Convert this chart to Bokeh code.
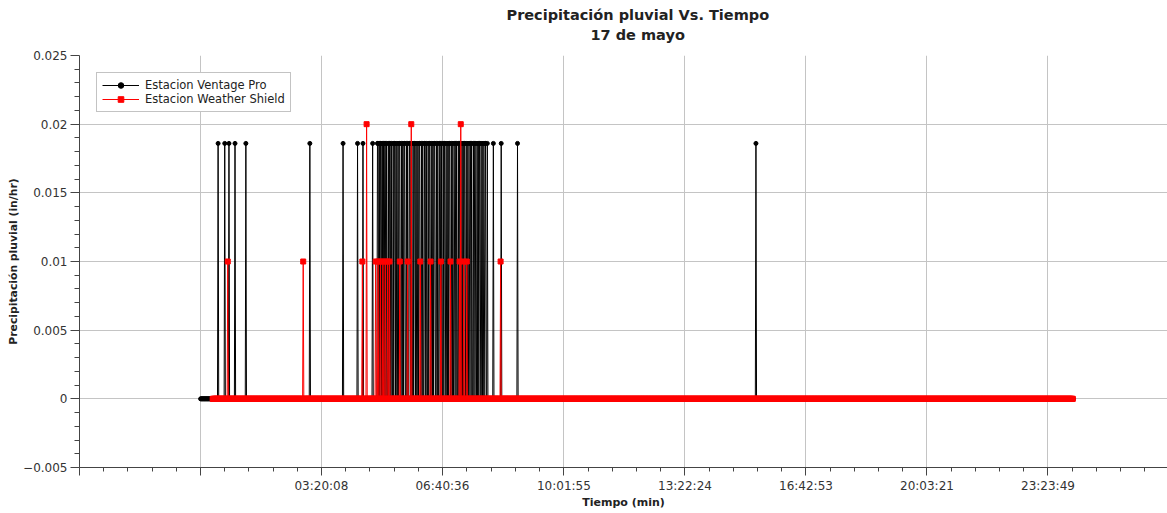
import numpy as np
from bokeh.plotting import figure
from bokeh.models import FixedTicker, Title, Legend, LegendItem, Range1d
from bokeh.embed import file_html
from bokeh.resources import INLINE

# ---------------- data (time in minutes since 00:00 of 17 de mayo) ----------------
# Estacion Ventage Pro: 1-minute samples, rain rate in in/hr
vp_start_min = 0
vp_end_min = 1446
vp_rain_value = 0.0186
vp_rain_minutes = [29, 40, 47, 57, 75, 181, 236, 260, 269, 285,
                   293, 294, 296, 298, 299, 301, 303, 305, 306, 308, 311, 313, 314, 316,
                   319, 321, 322, 324, 327, 329, 330, 333, 335, 337, 338, 341, 343, 346,
                   347, 349, 352, 354, 355, 357, 360, 362, 363, 366, 368, 371, 372, 374,
                   377, 379, 380, 383, 385, 387, 388, 391, 393, 396, 397, 399, 402, 404,
                   405, 408, 410, 412, 413, 416, 418, 421, 422, 424, 427, 429, 430, 433,
                   435, 437, 438, 441, 443, 446, 447, 449, 452, 454, 455, 458, 460, 462,
                   463, 466, 468, 471, 472, 475,
                   485, 498, 525, 920]

# Estacion Weather Shield: 1-minute samples, rain rate in in/hr
ws_start_min = 20
ws_end_min = 1445
ws_rain_minutes = [45, 170, 268, 275, 290, 294, 298, 302, 306, 310, 313,
                   330, 343, 349, 364, 381, 398, 414, 429, 431, 436, 441, 497]
ws_rain_values = [0.01, 0.01, 0.01, 0.02, 0.01, 0.01, 0.01, 0.01, 0.01, 0.01, 0.01,
                  0.01, 0.01, 0.02, 0.01, 0.01, 0.01, 0.01, 0.01, 0.02, 0.01, 0.01, 0.01]

x_tick_labels = ["03:20:08", "06:40:36", "10:01:55", "13:22:24",
                 "16:42:53", "20:03:21", "23:23:49"]
y_ticks = [-0.005, 0.0, 0.005, 0.01, 0.015, 0.02, 0.025]
y_tick_labels = ["\u22120.005", "0", "0.005", "0.01", "0.015", "0.02", "0.025"]

series_names = ["Estacion Ventage Pro", "Estacion Weather Shield"]
title_text = "Precipitación pluvial  Vs. Tiempo"
subtitle_text = "17 de mayo"
x_title = "Tiempo (min)"
y_title = "Precipitación pluvial (in/hr)"

# ---------------- build series ----------------
xs_vp = np.arange(vp_start_min, vp_end_min + 1).astype(float)
ys_vp = np.zeros(len(xs_vp))
ys_vp[np.array(vp_rain_minutes) - vp_start_min] = vp_rain_value

xs_ws = np.arange(ws_start_min, ws_end_min + 1).astype(float)
ys_ws = np.zeros(len(xs_ws))
ys_ws[np.array(ws_rain_minutes) - ws_start_min] = ws_rain_values


def to_min(s):
    h, m, sec = [int(v) for v in s.split(":")]
    return h * 60 + m + sec / 60.0


x_label_pos = [to_min(s) for s in x_tick_labels]
step = (x_label_pos[-1] - x_label_pos[0]) / (len(x_label_pos) - 1)
x_major = [-step, 0.0] + x_label_pos
x_end = 1601.8
x_minor = []
ext = x_major + [x_major[-1] + step]
for a, b in zip(ext[:-1], ext[1:]):
    for k in range(1, 5):
        x_minor.append(a + (b - a) * k / 5.0)
y_minor = [round(-0.005 + 0.001 * k, 4) for k in range(31) if k % 5 != 0]

FONT = "DejaVu Sans"
AXC = "#444444"
TXC = "#333333"

p = figure(width=1167, height=513, output_backend="svg", toolbar_location=None,
           x_range=Range1d(-step, x_end), y_range=Range1d(-0.005, 0.025),
           min_border_left=79, min_border_right=0, min_border_top=55, min_border_bottom=46,
           title=None, background_fill_color="white", border_fill_color="white",
           outline_line_color=None)

# two-line chart title: the subtitle sits next to the frame, the main title above it
p.add_layout(Title(text=subtitle_text, align="left", offset=511, standoff=24.5,
                   text_font=FONT, text_font_size="14.5px", text_font_style="bold",
                   text_color="#222222"), "above")
p.add_layout(Title(text=title_text, align="left", offset=427, standoff=-21.5,
                   text_font=FONT, text_font_size="14.5px", text_font_style="bold",
                   text_color="#222222"), "above")

xt = FixedTicker(ticks=x_major, minor_ticks=x_minor)
yt = FixedTicker(ticks=y_ticks, minor_ticks=y_minor)
p.xaxis.ticker = xt
p.yaxis.ticker = yt
p.xgrid.ticker = xt
p.ygrid.ticker = yt
p.xaxis.major_label_overrides = {**{float(t): "" for t in x_major[:2]},
                                 **{float(t): s for t, s in zip(x_label_pos, x_tick_labels)}}
p.yaxis.major_label_overrides = {float(t): s for t, s in zip(y_ticks, y_tick_labels)}

for ax in (p.xaxis[0], p.yaxis[0]):
    ax.axis_line_color = AXC
    ax.major_tick_line_color = AXC
    ax.minor_tick_line_color = AXC
    ax.major_tick_in = 0
    ax.minor_tick_in = 0
    ax.major_label_text_font = FONT
    ax.major_label_text_font_size = "12px"
    ax.major_label_text_color = TXC
    ax.axis_label_text_font = FONT
    ax.axis_label_text_font_style = "bold"
    ax.axis_label_text_color = "#222222"
p.xaxis.axis_label_text_font_size = "11px"
p.yaxis.axis_label_text_font_size = "10.8px"
p.xaxis.major_tick_out = 8
p.xaxis.minor_tick_out = 4
p.yaxis.major_tick_out = 9
p.yaxis.minor_tick_out = 5
p.xaxis.major_label_standoff = 3
p.yaxis.major_label_standoff = 3
p.xaxis.axis_label = x_title
p.yaxis.axis_label = y_title
p.xaxis.axis_label_standoff = 0
p.yaxis.axis_label_standoff = 0

p.xgrid.grid_line_color = "#c4c4c4"
p.ygrid.grid_line_color = "#c4c4c4"

r1 = p.line(xs_vp, ys_vp, line_color="black", line_width=1)
r2 = p.scatter(xs_vp, ys_vp, marker="circle", size=4, fill_color="black", line_color="black")
r3 = p.line(xs_ws, ys_ws, line_color="#ff0000", line_width=1)
r4 = p.scatter(xs_ws, ys_ws, marker="square", size=5, fill_color="#ff0000", line_color="#ff0000")

legend = Legend(items=[LegendItem(label=series_names[0], renderers=[r1, r2]),
                       LegendItem(label=series_names[1], renderers=[r3, r4])],
                location=(17, 355), padding=5, spacing=0, margin=0,
                glyph_width=37, glyph_height=14, label_height=14, label_standoff=6,
                label_text_font=FONT, label_text_font_size="11.5px", label_text_color="#222222",
                border_line_color="#888888", border_line_width=1,
                background_fill_color="white", background_fill_alpha=1.0)
p.add_layout(legend)

open("out.html", "w").write(file_html(p, INLINE))
